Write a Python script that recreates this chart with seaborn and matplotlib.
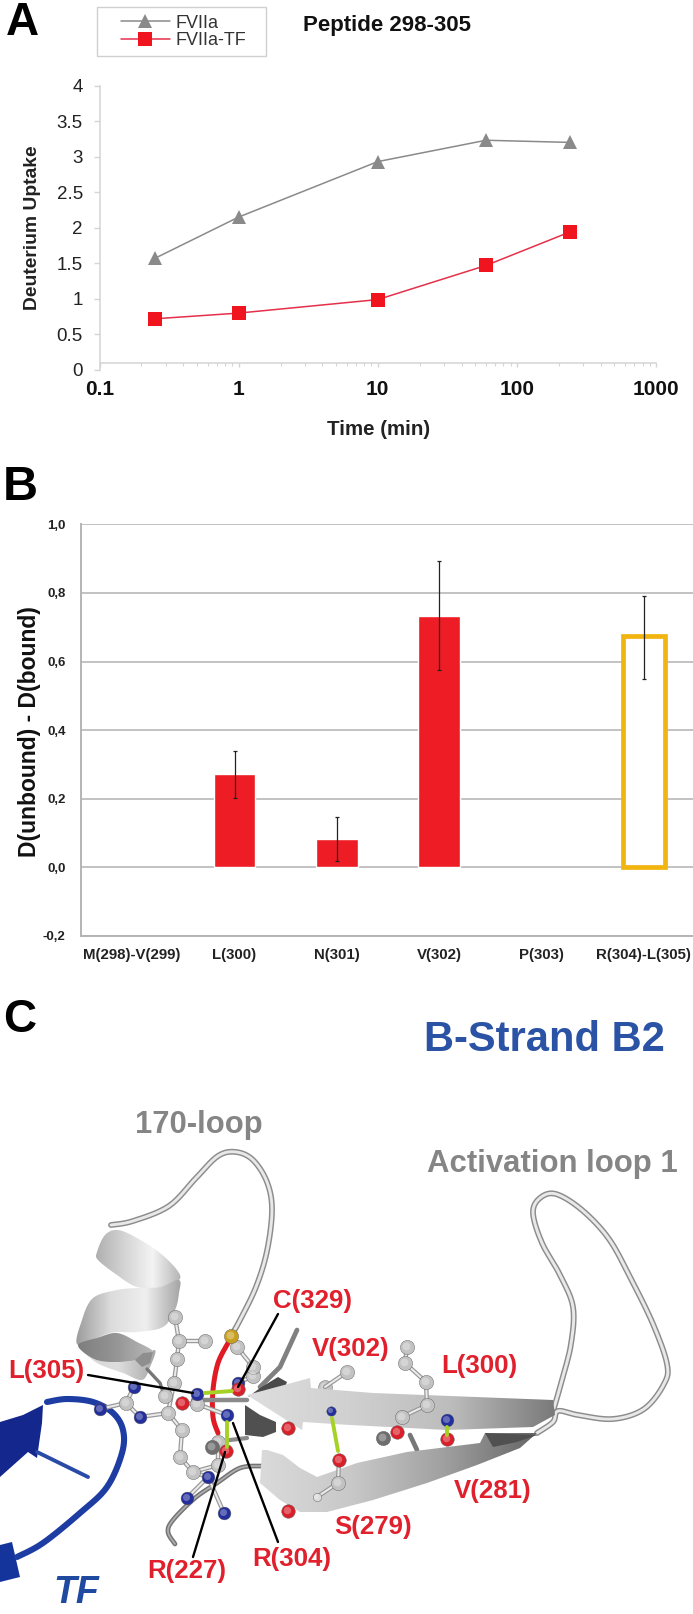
import numpy as np
import pandas as pd
import matplotlib
matplotlib.use('Agg')
import matplotlib.pyplot as plt
from matplotlib.colors import to_rgb
from matplotlib.patches import Polygon, Rectangle
from matplotlib.ticker import FixedLocator, LogLocator, NullFormatter
import seaborn as sns

# panel A values
time_min = [0.25, 1, 10, 60, 240]
uptake_free = [1.57, 2.15, 2.93, 3.23, 3.20]
uptake_tf = [0.72, 0.80, 0.99, 1.47, 1.94]
x_tick_labels = ['0.1', '1', '10', '100', '1000']
y_tick_labels = ['0', '0.5', '1', '1.5', '2', '2.5', '3', '3.5', '4']

# panel B values
residues = ['M(298)-V(299)', 'L(300)', 'N(301)', 'V(302)', 'P(303)', 'R(304)-L(305)']
diff = [np.nan, 0.271, 0.083, 0.734, np.nan, 0.674]
err_low = [np.nan, 0.203, 0.019, 0.576, np.nan, 0.55]
err_high = [np.nan, 0.338, 0.148, 0.892, np.nan, 0.79]
b_ticks = [-0.2, 0, 0.2, 0.4, 0.6, 0.8, 1.0]
b_tick_labels = ['-0,2', '0,0', '0,2', '0,4', '0,6', '0,8', '1,0']

# panel C structure sketch, traced in image pixels
grey_balls = [(175, 1317), (179, 1341), (205, 1341), (177, 1359), (174, 1383), (165, 1396), (197, 1404), (168, 1413),
              (126, 1403), (182, 1430), (180, 1457), (193, 1472), (218, 1442), (218, 1465), (237, 1347), (253, 1376),
              (253, 1367), (347, 1372), (338, 1483), (407, 1347), (405, 1363), (426, 1382), (427, 1405), (402, 1417)]
dark_balls = [(383, 1438), (212, 1447)]
blue_balls = [(134, 1387), (140, 1417), (100, 1409), (197, 1394), (227, 1415), (238, 1383), (208, 1477), (187, 1498),
              (224, 1513), (447, 1420)]
red_balls = [(182, 1403), (226, 1451), (238, 1389), (339, 1460), (288, 1511), (447, 1439), (397, 1432), (288, 1428)]
gold_balls = [(231, 1336)]
back_balls = [(325, 1387)]
small_balls = [(317, 1497)]
small_blue = [(331, 1411)]

bonds = [[(175, 1317), (179, 1341), (177, 1359), (174, 1383), (165, 1396)], [(179, 1341), (205, 1341)],
         [(174, 1383), (168, 1413)], [(134, 1387), (126, 1403), (140, 1417), (168, 1413)], [(100, 1409), (126, 1403)],
         [(168, 1413), (182, 1430), (180, 1457), (193, 1472), (208, 1477), (187, 1498)],
         [(193, 1472), (218, 1465), (218, 1442)], [(208, 1477), (224, 1513)], [(182, 1403), (197, 1404), (227, 1415)],
         [(231, 1336), (237, 1347), (253, 1367), (253, 1376), (238, 1383)], [(339, 1460), (338, 1483), (317, 1497)],
         [(325, 1387), (347, 1372)], [(407, 1347), (405, 1363), (426, 1382), (427, 1405), (402, 1417)]]
h_bonds = [[(205, 1393), (232, 1391)], [(227, 1422), (227, 1447)], [(332, 1418), (338, 1451)], [(447, 1427), (447, 1435)]]
leaders = [[(88, 1375), (193, 1393)], [(278, 1314), (238, 1387)], [(233, 1423), (278, 1542)], [(225, 1452), (193, 1557)]]

loop_170 = [(111, 1225), (133, 1221), (169, 1206), (196, 1178), (218, 1156), (236, 1152), (253, 1160), (267, 1182),
            (272, 1210), (267, 1251), (256, 1287), (240, 1320), (231, 1336)]
loop_act = [(537, 1433), (553, 1422), (558, 1411), (578, 1415), (613, 1419), (644, 1409), (664, 1384), (667, 1364),
            (653, 1324), (631, 1279), (609, 1239), (582, 1210), (556, 1194), (540, 1198), (533, 1213), (542, 1243),
            (560, 1275), (573, 1307), (571, 1344), (562, 1380), (554, 1408)]
loop_low = [(262, 1466), (240, 1468), (217, 1483), (195, 1498), (173, 1520), (168, 1532), (175, 1544)]
red_curve = [(228, 1343), (218, 1363), (213, 1390), (213, 1417), (218, 1433)]
tf_loop = [(47, 1402), (67, 1399), (93, 1402), (113, 1413), (123, 1430), (122, 1453), (107, 1487), (80, 1513), (43, 1543),
           (17, 1557)]
spike = [(297, 1330), (280, 1367), (260, 1387)]
side_band = [(193, 1400), (247, 1400)]
under_band = [(247, 1438), (230, 1440)]
tail = [(147, 1369), (160, 1383), (163, 1392)]
stub = [(410, 1435), (417, 1450)]

helix_top = [(105, 1235), (118, 1230), (137, 1238), (160, 1253), (177, 1270), (179, 1280), (160, 1287), (137, 1287),
             (117, 1275), (98, 1260), (97, 1252)]
helix_mid = [(93, 1298), (117, 1290), (137, 1288), (160, 1287), (179, 1280), (179, 1293), (175, 1310), (163, 1327),
             (137, 1332), (110, 1333), (78, 1345), (82, 1320)]
helix_dark = [(78, 1345), (97, 1338), (117, 1333), (137, 1342), (153, 1352), (137, 1360), (110, 1362), (92, 1358)]
helix_low = [(80, 1348), (92, 1358), (110, 1362), (137, 1360), (155, 1350), (150, 1367), (142, 1380), (123, 1373), (97, 1363)]
helix_spot = [(135, 1360), (143, 1353), (153, 1352), (150, 1363), (142, 1367)]
strand_up = [(247, 1395), (310, 1378), (311, 1388), (373, 1393), (553, 1400), (555, 1415), (533, 1427), (447, 1430),
             (350, 1425), (303, 1422), (302, 1430)]
strand_low = [(262, 1450), (267, 1450), (283, 1455), (300, 1468), (317, 1477), (357, 1463), (407, 1452), (480, 1443),
              (485, 1433), (537, 1433), (520, 1448), (477, 1465), (427, 1483), (373, 1500), (327, 1512), (300, 1512),
              (280, 1500), (260, 1483)]
strand_fold = [(485, 1433), (537, 1435), (517, 1442), (493, 1447)]
dark_piece = [(245, 1405), (260, 1415), (276, 1422), (276, 1432), (263, 1437), (245, 1435)]
dark_strip = [(260, 1388), (278, 1377), (287, 1382), (285, 1387), (248, 1397)]
tf_left = [(0, 1422), (23, 1415), (43, 1405), (42, 1423), (37, 1458), (28, 1452), (0, 1477)]
tf_low = [(0, 1545), (12, 1542), (20, 1577), (0, 1582)]
tf_stick = [(37, 1452), (88, 1477)]

W, H = 693, 1614

sns.set_theme(style='white')
plt.rcParams['font.family'] = ['Liberation Sans', 'DejaVu Sans']

fig = plt.figure(figsize=(W / 100, H / 100), dpi=100)
fig.patch.set_facecolor('white')


def px_axes(left, top, right, bottom):
    return fig.add_axes([left / W, 1 - bottom / H, (right - left) / W, (bottom - top) / H])


def fig_text(x, y, s, **kw):
    fig.text(x / W, 1 - y / H, s, ha='center', va='center', **kw)


# Panel A
ax = px_axes(99.5, 85.5, 656, 370)
df_a = pd.DataFrame({'time': time_min * 2,
                     'uptake': uptake_free + uptake_tf,
                     'state': ['FVIIa'] * 5 + ['FVIIa-TF'] * 5})
sns.lineplot(data=df_a, x='time', y='uptake', hue='state', style='state',
             palette={'FVIIa': '#8a8a8a', 'FVIIa-TF': '#e5304a'},
             markers={'FVIIa': '^', 'FVIIa-TF': 's'}, dashes=False, linewidth=1.1,
             markersize=10, markeredgewidth=0, ax=ax)
ax.set_xscale('log')
ax.set_xlim(0.1, 1000)
ax.set_ylim(0, 4)
ax.set_xlabel('')
ax.set_ylabel('')
for s in ['top', 'right']:
    ax.spines[s].set_visible(False)
ax.spines['bottom'].set_position(('data', 0.1))
ax.spines['bottom'].set_color('#d4d4d4')
ax.spines['left'].set_color('#d4d4d4')
ax.spines['bottom'].set_linewidth(1.1)
ax.spines['left'].set_linewidth(1.1)
ax.xaxis.set_major_locator(FixedLocator([0.1, 1, 10, 100, 1000]))
ax.xaxis.set_minor_locator(LogLocator(base=10, subs=np.arange(2, 10), numticks=10))
ax.xaxis.set_minor_formatter(NullFormatter())
ax.set_xticklabels(x_tick_labels, fontsize=15, fontweight='bold', color='#111111')
ax.set_yticks(np.arange(0, 4.5, 0.5))
ax.set_yticklabels(y_tick_labels, fontsize=13.5, color='#222222')
ax.tick_params(axis='x', which='major', bottom=True, length=3, width=1, color='#d4d4d4', pad=9.5)
ax.tick_params(axis='x', which='minor', bottom=True, length=2, width=0.8, color='#d4d4d4')
ax.tick_params(axis='y', left=True, length=4, width=1, color='#d4d4d4', pad=8)
leg = ax.legend(loc='upper left', bbox_to_anchor=(121 / W, 1 - 14.5 / H), bbox_transform=fig.transFigure,
                frameon=False, fontsize=13, handlelength=2.7, handletextpad=0.3, labelspacing=0.05,
                borderpad=0, borderaxespad=0)
for t in leg.get_texts():
    t.set_color('#333333')
for line_a in list(ax.get_lines()) + list(leg.get_lines()):
    if line_a.get_marker() == 's':
        line_a.set_markerfacecolor('#f0141e')
fig.add_artist(Rectangle((96.5 / W, 1 - 56 / H), 169 / W, 49.5 / H, transform=fig.transFigure,
                         facecolor='none', edgecolor='#d0d0d0', linewidth=1))

fig_text(387, 25, 'Peptide 298-305', fontsize=16, fontweight='bold', color='#111111')
fig_text(379, 429.5, 'Time (min)', fontsize=14.8, fontweight='bold', color='#222222')
fig_text(33, 228, 'Deuterium Uptake', fontsize=13.9, fontweight='bold', rotation=90, color='#222222')
fig_text(22, 23, 'A', fontsize=33, fontweight='bold', color='black')

# Panel B
ax_b = px_axes(81, 524.3, 695, 936)
df_b = pd.DataFrame({'residue': residues, 'diff': diff})
sns.barplot(data=df_b, x='residue', y='diff', color='#ee1c25', saturation=1, width=0.405, ax=ax_b, zorder=2)
ax_b.set_xlim(-0.5, 5.5)
ax_b.set_ylim(-0.2, 1.0)
for bar in ax_b.containers[0]:
    if abs(bar.get_height() - diff[5]) < 1e-6:
        bar.set_facecolor('white')
        bar.set_edgecolor('#f2b50f')
        bar.set_linewidth(3.4)
lower = np.array(diff) - np.array(err_low)
upper = np.array(err_high) - np.array(diff)
ax_b.errorbar(range(6), diff, yerr=[lower, upper], fmt='none', ecolor='#222222', elinewidth=0.9,
              capsize=1.2, capthick=0.9, zorder=4)
ax_b.set_yticks(b_ticks)
ax_b.set_yticklabels(b_tick_labels, fontsize=9.5, fontweight='bold', color='#222222')
ax_b.set_xticks(range(6))
ax_b.set_xticklabels(residues, fontsize=10.8, fontweight='bold', color='#222222')
ax_b.tick_params(axis='x', length=0, pad=9)
ax_b.tick_params(axis='y', length=0, pad=11)
ax_b.grid(axis='y', color='#bdbdbd', linewidth=1.3, zorder=0)
ax_b.set_axisbelow(True)
for s in ['top', 'right']:
    ax_b.spines[s].set_visible(False)
ax_b.spines['left'].set_color('#b4b4b4')
ax_b.spines['bottom'].set_color('#b4b4b4')
ax_b.spines['left'].set_linewidth(1.4)
ax_b.spines['bottom'].set_linewidth(1.4)
ax_b.set_xlabel('')
ax_b.set_ylabel('')
fig_text(30, 732, 'D(unbound) - D(bound)', fontsize=16.5, fontweight='bold', rotation=90, color='#111111')
fig_text(20, 487, 'B', fontsize=35, fontweight='bold', color='black')

# Panel C
ax_c = px_axes(0, 980, W, H)
ax_c.set_facecolor('none')


def smooth(pts, closed=False, n=8):
    # rounds a traced outline, Catmull-Rom through the traced points
    p = np.array(pts, dtype=float)
    if closed:
        p = np.vstack([p[-1], p, p[0], p[1]])
    else:
        p = np.vstack([p[0], p, p[-1]])
    out = []
    for i in range(1, len(p) - 2):
        for t in np.linspace(0, 1, n, endpoint=False):
            out.append(0.5 * (2 * p[i] + (p[i + 1] - p[i - 1]) * t
                              + (2 * p[i - 1] - 5 * p[i] + 4 * p[i + 1] - p[i + 2]) * t ** 2
                              + (3 * p[i] - p[i - 1] - 3 * p[i + 1] + p[i + 2]) * t ** 3))
    if not closed:
        out.append(p[-2])
    return np.array(out)


def grad_poly(pts, stops, zorder=2):
    # polygon filled with a left to right grey ramp
    pts = np.array(pts)
    patch = Polygon(pts, closed=True, facecolor='none', edgecolor='none')
    ax_c.add_patch(patch)
    rgb = np.array([to_rgb(c) for c in stops])
    pos = np.linspace(0, 1, len(stops))
    ramp = np.linspace(0, 1, 128)
    img = np.stack([np.interp(ramp, pos, rgb[:, k]) for k in range(3)], axis=-1)[None, :, :]
    extent = [pts[:, 0].min(), pts[:, 0].max(), pts[:, 1].max(), pts[:, 1].min()]
    im = ax_c.imshow(img, extent=extent, aspect='auto', interpolation='bilinear', zorder=zorder)
    im.set_clip_path(patch)


def line(pts, color, w, z=3, curve=False):
    pts = smooth(pts) if curve else np.array(pts)
    ax_c.plot(pts[:, 0], pts[:, 1], color=color, lw=w, zorder=z, solid_capstyle='round', solid_joinstyle='round')


def flat(pts, color, z=2):
    ax_c.add_patch(Polygon(pts, closed=True, facecolor=color, edgecolor='none', zorder=z))


def tube(pts, outer='#8c8c8c', inner='#e8e8e8', w=4.2):
    line(pts, outer, w, curve=True)
    line(pts, inner, w * 0.5, curve=True)


def balls(pts, color, size, z=6):
    df = pd.DataFrame(pts, columns=['x', 'y'])
    sns.scatterplot(data=df, x='x', y='y', color=color, s=size, edgecolor='#5a5a5a', linewidth=0.3,
                    legend=False, ax=ax_c, zorder=z)
    ax_c.scatter(df['x'] - 1.2, df['y'] - 1.2, s=size * 0.3, color='white', alpha=0.3, linewidth=0, zorder=z)


# TF in blue
flat(tf_left, '#14278c')
flat(tf_low, '#14349c')
line(tf_stick, '#2a4aa8', 2.8)
line(tf_loop, '#1d3da3', 4.4, curve=True)

# grey ribbons
tube(loop_170)
tube(loop_act)
grad_poly(smooth(helix_top, closed=True), ['#b0b0b0', '#d4d4d4', '#f4f4f4', '#b4b4b4'])
grad_poly(smooth(helix_mid, closed=True), ['#9c9c9c', '#dcdcdc', '#efefef', '#a4a4a4'])
grad_poly(smooth(helix_low, closed=True), ['#d6d6d6', '#dedede', '#a8a8a8'])
grad_poly(smooth(helix_dark, closed=True), ['#7e7e7e', '#959595', '#b8b8b8'], zorder=2.1)
flat(helix_spot, '#8e8e8e', z=2.2)
line(tail, '#777777', 2.4, z=2.2)
line(red_curve, '#e01b24', 3.6, curve=True)
line(loop_low, '#747474', 3.4, curve=True)
line(loop_low, '#b0b0b0', 1.2, curve=True)
line(spike, '#808080', 3.4)
line(side_band, '#8a8a8a', 3.2)
line(under_band, '#8a8a8a', 3)
flat(dark_piece, '#505050', z=3)
flat(dark_strip, '#4a4a4a', z=3)
balls(back_balls, '#c2c2c2', 100, z=3)
line(stub, '#777777', 3.4, z=3)
grad_poly(strand_up, ['#dedede', '#d0d0d0', '#bcbcbc', '#7a7a7a'], zorder=4)
grad_poly(strand_low, ['#dadada', '#c8c8c8', '#a0a0a0', '#666666'], zorder=4)
flat(strand_fold, '#505050', z=4.5)

# sticks and balls
for b in bonds:
    line(b, '#9a9a9a', 3.2, z=5)
    line(b, '#ececec', 1.4, z=5)
for b in h_bonds:
    line(b, '#a6d125', 2.8, z=7)

balls(grey_balls, '#c2c2c2', 105)
balls(dark_balls, '#6e6e6e', 105)
balls(blue_balls, '#232f9c', 85)
balls(red_balls, '#d9202a', 95)
balls(gold_balls, '#c9a01e', 105)
balls(small_balls, '#dcdcdc', 36)
balls(small_blue, '#232f9c', 46)
for b in leaders:
    line(b, 'black', 1.7, z=8)

ax_c.set_xlim(0, W)
ax_c.set_ylim(H, 980)
ax_c.axis('off')

fig_text(20, 1020, 'C', fontsize=33, fontweight='bold', color='black')
fig_text(544, 1040, 'B-Strand B2', fontsize=30, fontweight='bold', color='#2a52a5')
fig_text(199, 1125, '170-loop', fontsize=22.3, fontweight='bold', color='#858585')
fig_text(552, 1164, 'Activation loop 1', fontsize=22.4, fontweight='bold', color='#858585')
label_pos = {'C(329)': (312, 1301), 'V(302)': (351, 1349), 'L(300)': (479, 1366), 'L(305)': (46, 1371),
             'V(281)': (493, 1491), 'S(279)': (373, 1527), 'R(304)': (292, 1559), 'R(227)': (187, 1571)}
for name, (lx, ly) in label_pos.items():
    fig_text(lx, ly, name, fontsize=18.6, fontweight='bold', color='#e0202c')
fig_text(76, 1593, 'TF', fontsize=27, fontweight='bold', style='italic', color='#1f4aa0')

fig.savefig('out.png', dpi=100)
